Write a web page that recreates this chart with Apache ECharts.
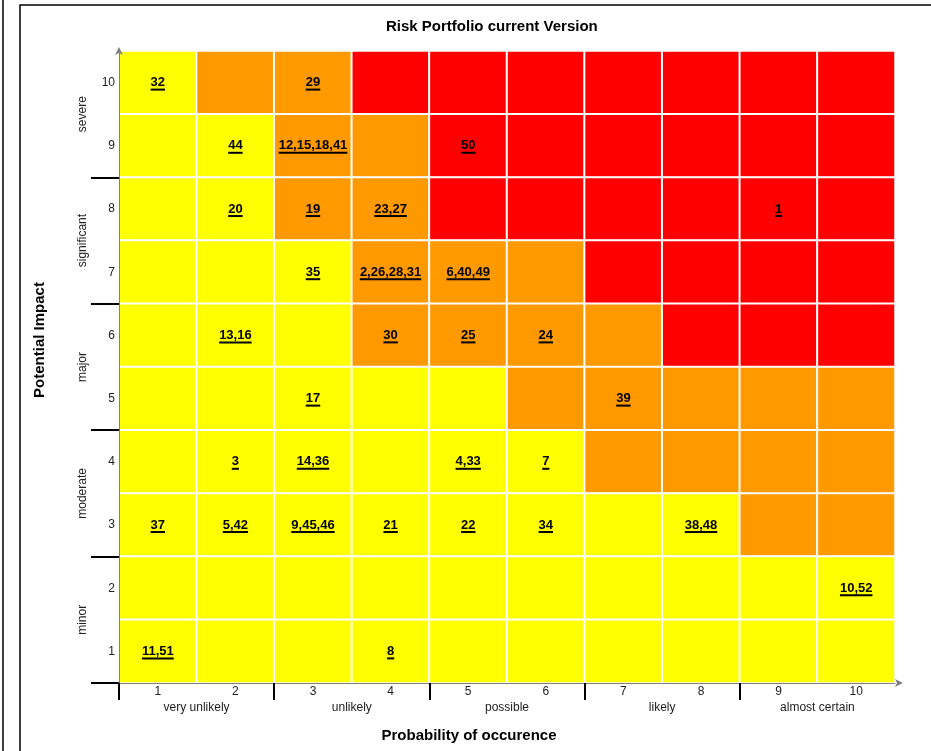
<!DOCTYPE html>
<html>
<head>
<meta charset="utf-8">
<script src="https://cdn.jsdelivr.net/npm/echarts@6/dist/echarts.min.js"></script>
<style>
html,body{margin:0;padding:0;background:#fff;}
#chart{width:931px;height:751px;}
</style>
</head>
<body>
<div id="chart"></div>
<script>
// ---- data ----
const probCategories = ['1','2','3','4','5','6','7','8','9','10'];
const impactCategories = ['1','2','3','4','5','6','7','8','9','10'];
const probGroups = ['very unlikely','unlikely','possible','likely','almost certain'];
const impactGroups = ['minor','moderate','major','significant','severe'];
const groupCenters = [1,3,5,7,9];
const groupBounds = [0,2,4,6,8];
// risk level per cell: 0 = low (yellow), 1 = medium (orange), 2 = high (red)
// rows listed from impact 10 (top) down to impact 1 (bottom); columns probability 1..10
const riskLevelRows = [
  [0,1,1,2,2,2,2,2,2,2],
  [0,0,1,1,2,2,2,2,2,2],
  [0,0,1,1,2,2,2,2,2,2],
  [0,0,0,1,1,1,2,2,2,2],
  [0,0,0,1,1,1,1,2,2,2],
  [0,0,0,0,0,1,1,1,1,1],
  [0,0,0,0,0,0,1,1,1,1],
  [0,0,0,0,0,0,0,0,1,1],
  [0,0,0,0,0,0,0,0,0,0],
  [0,0,0,0,0,0,0,0,0,0]
];
const levelColors = ['#FFFF00','#FF9900','#FF0000'];
// [probability, impact, risk ids]
const riskLabels = [
  [1,10,'32'], [3,10,'29'],
  [2,9,'44'], [3,9,'12,15,18,41'], [5,9,'50'],
  [2,8,'20'], [3,8,'19'], [4,8,'23,27'], [9,8,'1'],
  [3,7,'35'], [4,7,'2,26,28,31'], [5,7,'6,40,49'],
  [2,6,'13,16'], [4,6,'30'], [5,6,'25'], [6,6,'24'],
  [3,5,'17'], [7,5,'39'],
  [2,4,'3'], [3,4,'14,36'], [5,4,'4,33'], [6,4,'7'],
  [1,3,'37'], [2,3,'5,42'], [3,3,'9,45,46'], [4,3,'21'], [5,3,'22'], [6,3,'34'], [8,3,'38,48'],
  [10,2,'10,52'],
  [1,1,'11,51'], [4,1,'8']
];
const titleText = 'Risk Portfolio current Version';
const xTitle = 'Probability of occurence';
const yTitle = 'Potential Impact';

// ---- build ----
const FONT = '"Liberation Sans", Arial, Helvetica, sans-serif';
const heatData = [];
riskLevelRows.forEach((row, r) => {
  const impact = impactCategories.length - r;
  row.forEach((lvl, c) => heatData.push([c, impact - 1, lvl]));
});
const labelData = riskLabels.map(d => [probCategories.indexOf(String(d[0])), impactCategories.indexOf(String(d[1]))]);

const mctx = document.createElement('canvas').getContext('2d');
mctx.font = 'bold 13px ' + FONT;
function textWidth(t){ return mctx.measureText(t).width; }

const chart = echarts.init(document.getElementById('chart'), null, {renderer:'canvas'});
chart.setOption({
  animation: false,
  backgroundColor: '#fff',
  title: {
    text: titleText, left: 381, top: 14,
    textStyle: {fontFamily: FONT, fontSize: 15, fontWeight: 'bold', color: '#000'}
  },
  graphic: [
    {type:'line', shape:{x1:3, y1:0, x2:3, y2:751}, style:{stroke:'#000', lineWidth:1.5}, silent:true},
    {type:'polyline', shape:{points:[[20,751],[20,5],[931,5]]}, style:{stroke:'#000', lineWidth:1.5, fill:null}, silent:true}
  ],
  grid: {left: 119, right: 36, top: 51, bottom: 68, containLabel: false},
  visualMap: {
    type: 'piecewise', show: false, dimension: 2, seriesIndex: 0,
    pieces: levelColors.map((c, i) => ({value: i, color: c}))
  },
  xAxis: [
    {
      type: 'category', data: probCategories, position: 'bottom', z: 5,
      axisLine: {show: true, lineStyle: {color: '#808080', width: 1}, symbol: ['none','arrow'], symbolSize: [6,8], symbolOffset: [0,8]},
      axisTick: {show: false},
      axisLabel: {margin: 3, fontFamily: FONT, fontSize: 12, color: '#222'},
      splitLine: {show: false}
    },
    {
      type: 'value', min: 0, max: 10, position: 'bottom', z: 5,
      axisLine: {show: false},
      axisTick: {show: true, length: 17, customValues: groupBounds, lineStyle: {color: '#000', width: 2}},
      axisLabel: {margin: 19, customValues: groupCenters, fontFamily: FONT, fontSize: 12, color: '#222',
        formatter: v => probGroups[groupCenters.indexOf(v)] || ''},
      splitLine: {show: false},
      name: xTitle, nameLocation: 'middle', nameGap: 45,
      nameTextStyle: {fontFamily: FONT, fontSize: 15, fontWeight: 'bold', color: '#000', padding: [0, 76, 0, 0]}
    }
  ],
  yAxis: [
    {
      type: 'category', data: impactCategories, position: 'left', z: 5,
      axisLine: {show: true, lineStyle: {color: '#808080', width: 1}, symbol: ['none','arrow'], symbolSize: [6,8], symbolOffset: [0,4]},
      axisTick: {show: false},
      axisLabel: {margin: 4, fontFamily: FONT, fontSize: 12, color: '#222'},
      splitLine: {show: false}
    },
    {
      type: 'value', min: 0, max: 10, position: 'left', z: 5,
      axisLine: {show: false},
      axisTick: {show: true, length: 28, customValues: groupBounds, lineStyle: {color: '#000', width: 2}},
      axisLabel: {margin: 30, rotate: 90, customValues: groupCenters, fontFamily: FONT, fontSize: 12, color: '#222',
        formatter: v => impactGroups[groupCenters.indexOf(v)] || ''},
      splitLine: {show: false},
      name: yTitle, nameLocation: 'middle', nameGap: 72, nameRotate: 90,
      nameTextStyle: {fontFamily: FONT, fontSize: 15, fontWeight: 'bold', color: '#000', padding: [0, 0, 0, 54]}
    }
  ],
  series: [
    {
      type: 'heatmap', xAxisIndex: 0, yAxisIndex: 0, data: heatData,
      itemStyle: {borderColor: '#fff', borderWidth: 2},
      label: {show: false}, emphasis: {disabled: true}
    },
    {
      type: 'custom', xAxisIndex: 0, yAxisIndex: 0, data: labelData, z: 10,
      renderItem: function (params, api) {
        const p = api.coord([api.value(0), api.value(1)]);
        const text = riskLabels[params.dataIndex][2];
        const w = textWidth(text);
        return {
          type: 'group',
          children: [
            {type: 'text', x: p[0], y: p[1],
             style: {text: text, align: 'center', verticalAlign: 'middle', fontFamily: FONT, fontSize: 13, fontWeight: 'bold', fill: '#000'}},
            {type: 'rect', shape: {x: p[0] - w/2, y: p[1] + 6, width: w, height: 2}, style: {fill: '#000'}}
          ]
        };
      }
    }
  ]
});
</script>
</body>
</html>
